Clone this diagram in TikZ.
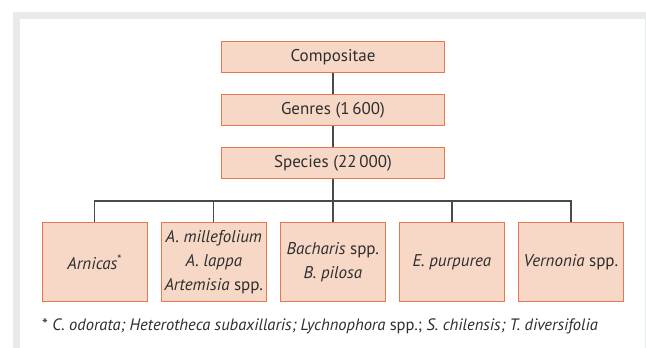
\documentclass[tikz,border=0pt]{standalone}
\usepackage{fontspec}
\setmainfont{PT Sans}
\definecolor{boxfill}{HTML}{F7D8C6}
\definecolor{boxline}{HTML}{E8764F}
\definecolor{conn}{HTML}{4A4A4A}
\definecolor{frame}{HTML}{E9EBEA}
\definecolor{txt}{HTML}{2E2E2E}
\begin{document}
\begin{tikzpicture}[x=1pt,y=-1pt,
  tbox/.style={draw=boxline,fill=boxfill,line width=1.5pt,minimum width=223pt,minimum height=31pt,inner sep=0pt,font=\fontsize{17}{20}\selectfont,text=txt},
  lbox/.style={draw=boxline,fill=boxfill,line width=1.5pt,minimum width=105pt,minimum height=79pt,inner sep=0pt,align=center,font=\fontsize{17}{24.3}\selectfont,text=txt},
  link/.style={draw=conn,line width=1.2pt}]
\useasboundingbox (0,0) rectangle (646,348);
\fill[white] (0,0) rectangle (646,348);
\fill[frame] (12.5,11.5) rectangle (646,348);
\fill[white] (20,19) rectangle (645,348);
\node[tbox] (comp) at (333,57) {Compositae};
\node[tbox] (gen) at (333,110) {Genres (1\,600)};
\node[tbox] (spec) at (333,163) {Species (22\,000)};
\coordinate (bus) at (333,201);
\node[lbox] (b1) at (94.8,262) {\textit{Arnicas}\textsuperscript{*}};
\node[lbox] (b2) at (213.8,262) {\textit{A. millefolium}\\\textit{A. lappa}\\\textit{Artemisia} spp.};
\node[lbox] (b3) at (332.9,262) {\textit{Bacharis} spp.\\\textit{B. pilosa}};
\node[lbox] (b4) at (451.9,262) {\textit{E. purpurea}};
\node[lbox] (b5) at (570.9,262) {\textit{Vernonia} spp.};
\draw[link] (comp) -- (gen);
\draw[link] (gen) -- (spec);
\draw[link] (spec) -- (bus);
\draw[link] (b1.north) |- (bus) -| (b5.north);
\draw[link] (b2.north) -- (b2.north |- bus);
\draw[link] (b3.north) -- (b3.north |- bus);
\draw[link] (b4.north) -- (b4.north |- bus);
\node[anchor=west,inner sep=0pt,text=txt,font=\fontsize{16.5}{20}\selectfont] (foot) at (42,326) {* \textit{C. odorata; Heterotheca subaxillaris; Lychnophora} spp.; \textit{S. chilensis; T. diversifolia}};
\end{tikzpicture}
\end{document}
